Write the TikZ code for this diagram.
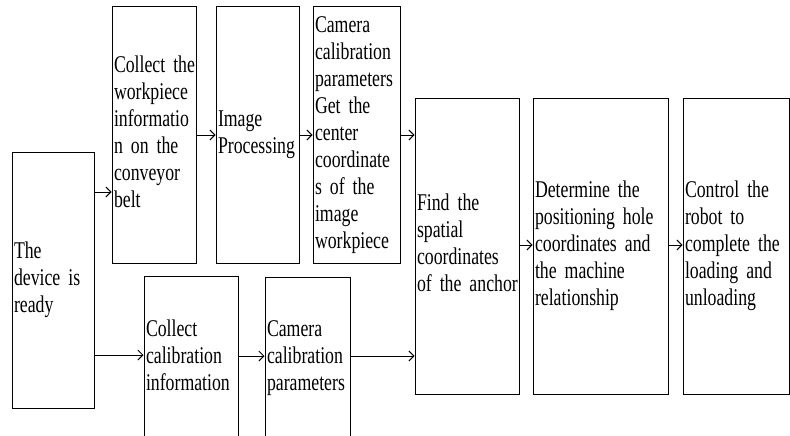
\documentclass[tikz,border=0pt]{standalone}
\usepackage{fontspec}
\setmainfont{Liberation Serif}[FakeStretch=0.74]
\usetikzlibrary{arrows.meta}
% font of the box texts, with tighter word spacing
\newcommand\boxfont{\fontsize{24}{27}\selectfont\fontdimen2\font=4pt\relax}
% lines of a box, set without any automatic breaking
\newcommand\txtlines[1]{\begin{tabular}{@{}l@{}}#1\end{tabular}}
\begin{document}
\begin{tikzpicture}[x=1pt,y=-1pt,
  box/.style={draw, line width=1pt, rectangle, inner xsep=2pt, inner ysep=0pt,
    align=left, font=\boxfont},
  arr/.style={-{Straight Barb[length=5pt,width=10pt]}, line width=0.9pt}]
\clip (0,0) rectangle (790,436);

% start
\node[box, minimum width=82pt, minimum height=256pt, text width=78pt] (dev) at (53,280)
  {\txtlines{The\\device is\\ready}};

% upper branch
\node[box, minimum width=84pt, minimum height=256pt, text width=80pt] (wp) at (154,135)
  {\txtlines{Collect the\\workpiece\\informatio\\n on the\\conveyor\\belt}};
\node[box, minimum width=83pt, minimum height=256pt, text width=79pt] (ip) at (257.5,135)
  {\txtlines{Image\\Processing}};
\node[box, minimum width=87pt, minimum height=256pt, text width=83pt] (cam) at (356.5,135)
  {\txtlines{Camera\\calibration\\parameters\\Get the\\center\\coordinate\\s of the\\image\\workpiece}};

% lower branch
\node[box, minimum width=94pt, minimum height=164pt, text width=90pt] (cc) at (191,358)
  {\txtlines{Collect\\calibration\\information}};
\node[box, minimum width=85pt, minimum height=163pt, text width=81pt] (ccp) at (307.5,358.5)
  {\txtlines{Camera\\calibration\\parameters}};

% final stages
\node[box, minimum width=104pt, minimum height=296pt, text width=100pt] (fs) at (467,246)
  {\txtlines{Find the\\spatial\\coordinates\\of the anchor}};
\node[box, minimum width=135pt, minimum height=296pt, text width=131pt] (dm) at (600.5,246)
  {\txtlines{Determine the\\positioning hole\\coordinates and\\the machine\\relationship}};
\node[box, minimum width=106pt, minimum height=296pt, text width=102pt] (ct) at (736,246)
  {\txtlines{Control the\\robot to\\complete the\\loading and\\unloading}};

% connectors
\draw[arr] (dev.east |- 0,192) -- (wp.west |- 0,192);
\draw[arr] (dev.east |- 0,355) -- (cc.west |- 0,355);
\draw[arr] (wp.east |- 0,135) -- (ip.west |- 0,135);
\draw[arr] (ip.east |- 0,135) -- (cam.west |- 0,135);
\draw[arr] (cam.east |- 0,135) -- (fs.west |- 0,135);
\draw[arr] (cc.east |- 0,356) -- (ccp.west |- 0,356);
\draw[arr] (ccp.east |- 0,356) -- (fs.west |- 0,356);
\draw[arr] (fs.east |- 0,245) -- (dm.west |- 0,245);
\draw[arr] (dm.east |- 0,245) -- (ct.west |- 0,245);
\end{tikzpicture}
\end{document}
